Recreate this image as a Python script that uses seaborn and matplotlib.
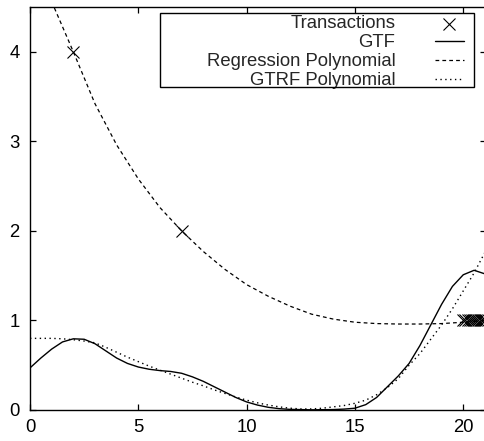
import numpy as np
import pandas as pd
import matplotlib
matplotlib.use('Agg')
import matplotlib.pyplot as plt
from matplotlib.patches import Rectangle
import seaborn as sns

# transactions (observed points)
trans_x = [2, 7, 20.0, 20.1, 20.2, 20.3, 20.4, 20.5, 20.6, 20.7, 20.8, 20.9, 21.0]
trans_y = [4, 2, 1, 1, 1, 1, 1, 1, 1, 1, 1, 1, 1]

# GTF curve
gtf_x = [0, 0.5, 1, 1.5, 2, 2.5, 3, 3.5, 4, 4.5, 5, 5.5, 6, 6.5, 7, 7.5, 8, 8.5,
         9, 9.5, 10, 10.5, 11, 11.5, 12, 13, 14, 14.5, 15, 15.5, 16, 16.5, 17,
         17.5, 18, 18.5, 19, 19.5, 20, 20.5, 21]
gtf_y = [0.47, 0.58, 0.68, 0.76, 0.795, 0.79, 0.74, 0.66, 0.58, 0.52, 0.48, 0.455,
         0.44, 0.43, 0.41, 0.37, 0.32, 0.26, 0.2, 0.14, 0.09, 0.055, 0.03, 0.015,
         0.007, 0.002, 0.005, 0.01, 0.02, 0.06, 0.14, 0.26, 0.38, 0.52, 0.72, 0.95,
         1.18, 1.38, 1.51, 1.56, 1.52]

# regression polynomial
reg_x = [1.0, 2, 3, 4, 5, 6, 7, 8, 9, 10, 11, 12, 13, 14, 15, 16, 17, 18, 19, 20, 21]
reg_y = [4.56, 4.0, 3.42, 2.96, 2.58, 2.26, 2.0, 1.77, 1.57, 1.40, 1.27, 1.16, 1.07,
         1.015, 0.98, 0.965, 0.96, 0.96, 0.965, 0.98, 1.0]

# GTRF polynomial
gtrf_x = [0, 0.5, 1, 1.5, 2, 2.5, 3, 3.5, 4, 4.5, 5, 5.5, 6, 6.5, 7, 7.5, 8, 8.5,
          9, 9.5, 10, 10.5, 11, 11.5, 12, 12.5, 13, 13.5, 14, 14.5, 15, 15.5, 16,
          16.5, 17, 17.5, 18, 18.5, 19, 19.5, 20, 20.5, 21]
gtrf_y = [0.80, 0.80, 0.80, 0.795, 0.785, 0.77, 0.75, 0.70, 0.645, 0.59, 0.54, 0.49,
          0.445, 0.40, 0.355, 0.31, 0.27, 0.225, 0.185, 0.145, 0.11, 0.08, 0.055,
          0.035, 0.02, 0.012, 0.012, 0.02, 0.035, 0.05, 0.075, 0.11, 0.17, 0.25,
          0.35, 0.50, 0.63, 0.79, 0.95, 1.13, 1.33, 1.53, 1.76]

x_ticks = [0, 5, 10, 15, 20]
y_ticks = [0, 1, 2, 3, 4]

sns.set_style('ticks')
plt.rcParams['font.family'] = ['Liberation Sans', 'DejaVu Sans']
FS = 13.3

fig = plt.figure(figsize=(4.84, 4.41), dpi=100)
ax = fig.add_axes([30 / 484, 31 / 441, 456 / 484, 403 / 441])

sns.scatterplot(x=trans_x, y=trans_y, marker='x', s=75, color='black',
                linewidth=0.8, ax=ax, label='Transactions', zorder=3)
sns.lineplot(x=gtf_x, y=gtf_y, color='black', lw=1.0, ax=ax, label='GTF',
             sort=False, estimator=None)
sns.lineplot(x=reg_x, y=reg_y, color='black', lw=0.9, ax=ax,
             label='Regression Polynomial', sort=False, estimator=None)
sns.lineplot(x=gtrf_x, y=gtrf_y, color='black', lw=1.0, ax=ax,
             label='GTRF Polynomial', sort=False, estimator=None)
lines = ax.get_lines()
lines[1].set_linestyle((0, (3, 2.5)))
lines[2].set_linestyle((0, (1, 2.5)))

ax.set_xlim(0, 21.05)
ax.set_ylim(0, 4.5)
ax.set_xticks(x_ticks)
ax.set_yticks(y_ticks)
ax.tick_params(direction='in', length=4, width=0.9, colors='black',
               labelsize=FS, top=True, right=True)
ax.tick_params(axis='x', pad=6.8)
ax.tick_params(axis='y', pad=7.5)
for sp in ax.spines.values():
    sp.set_visible(True)
    sp.set_linewidth(1.0)
    sp.set_color('black')

handles, labels = ax.get_legend_handles_labels()
leg = ax.legend(handles, labels, loc='upper right', frameon=False,
                markerfirst=False, fontsize=FS, borderpad=0, labelspacing=0.1,
                handlelength=1.57, handletextpad=2.15, borderaxespad=0,
                bbox_to_anchor=(464 / 484, 1 - 15.5 / 441),
                bbox_transform=fig.transFigure)
fig.patches.append(Rectangle((160 / 484, 1 - 87 / 441), 314 / 484, 74 / 441,
                             transform=fig.transFigure, fill=False,
                             edgecolor='black', lw=1.0, zorder=5))

fig.savefig('out.png', dpi=100)
